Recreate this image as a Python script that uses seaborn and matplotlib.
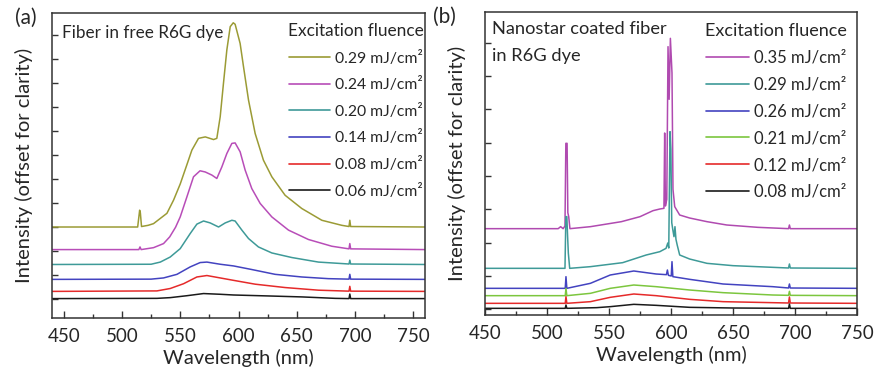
import numpy as np
import pandas as pd
import matplotlib
matplotlib.use("Agg")
import matplotlib.pyplot as plt
import seaborn as sns
from matplotlib.ticker import MultipleLocator, FixedLocator

# ---------------- Panel (a): fiber in free R6G dye ----------------
a_labels = ["0.29 mJ/cm²", "0.24 mJ/cm²", "0.20 mJ/cm²",
            "0.14 mJ/cm²", "0.08 mJ/cm²", "0.06 mJ/cm²"]
a_colors = ["#9b9b35", "#b84db8", "#3e9a98", "#4343c0", "#e52a2a", "#1a1a1a"]

a029_wl = [440, 513.5, 515.2, 515.8, 516.8, 522.5, 527.1, 538.6, 544.3, 550, 555.7, 560,
           565.7, 571.5, 578.6, 581.4, 584.3, 587.1, 590, 592.9, 595.5, 597.1, 601.4,
           604.3, 608.6, 614.3, 621.4, 628.6, 640, 654.3, 671.5, 688.6, 694.8, 695.5,
           696.2, 760]
a029_int = [4.01, 4.01, 4.71, 4.6, 4.03, 4.08, 4.15, 4.58, 5.13, 5.8, 6.6, 7.21,
            7.70, 7.76, 7.65, 7.70, 8.60, 9.99, 11.38, 12.35, 12.51, 12.45, 11.65,
            10.68, 9.29, 7.90, 6.79, 6.10, 5.33, 4.78, 4.29, 4.08, 4.03, 4.29,
            4.03, 4.01]

a024_wl = [440, 514.5, 515.5, 516.5, 527.1, 535.7, 541, 546, 550, 555.7, 561.4, 567,
           571.5, 577.2, 581.4, 585.7, 590, 594.3, 597.1, 601.4, 605.7, 611.4, 618.6,
           628.6, 642.9, 660, 680, 694.8, 695.5, 696.2, 760]
a024_int = [3.07, 3.07, 3.18, 3.07, 3.15, 3.32, 3.6, 4.0, 4.43, 5.26, 6.1, 6.35,
            6.30, 6.17, 6.03, 6.51, 7.07, 7.49, 7.51, 7.14, 6.38, 5.61, 4.99,
            4.43, 3.88, 3.49, 3.21, 3.1, 3.32, 3.1, 3.07]

a020_wl = [440, 525, 532.9, 541.4, 550, 558.6, 564.3, 570, 575.7, 582.9, 588.6, 594.3,
           597.1, 602.9, 608.6, 617.1, 628.6, 645.7, 668.6, 694.8, 695.5, 696.2, 760]
a020_int = [2.45, 2.46, 2.55, 2.76, 3.11, 3.74, 4.13, 4.26, 4.18, 4.01, 4.18, 4.29,
            4.26, 3.88, 3.53, 3.18, 2.93, 2.74, 2.55, 2.47, 2.63, 2.47, 2.45]

a014_wl = [440, 525, 535.7, 547.2, 558.6, 567.1, 572.9, 584.3, 595.7, 611.4, 631.4,
           654.3, 677.1, 694.8, 695.5, 696.2, 760]
a014_int = [1.83, 1.84, 1.89, 2.04, 2.35, 2.53, 2.55, 2.46, 2.39, 2.24, 2.04,
            1.93, 1.86, 1.84, 2.04, 1.84, 1.83]

a008_wl = [440, 530, 541.4, 552.9, 564.3, 572.9, 584.3, 595.7, 614.3, 640, 668.6,
           694.8, 695.5, 696.2, 760]
a008_int = [1.33, 1.35, 1.45, 1.65, 1.93, 1.99, 1.89, 1.79, 1.63, 1.49, 1.38,
            1.34, 1.54, 1.34, 1.33]

a006_wl = [440, 530, 541.4, 555.7, 570, 584.3, 595.7, 625.7, 654.3, 682.9, 694.8,
           695.5, 696.2, 760]
a006_int = [1.03, 1.04, 1.07, 1.15, 1.24, 1.21, 1.18, 1.14, 1.10, 1.04, 1.03,
            1.22, 1.03, 1.03]

# ---------------- Panel (b): nanostar coated fiber ----------------
b_labels = ["0.35 mJ/cm²", "0.29 mJ/cm²", "0.26 mJ/cm²",
            "0.21 mJ/cm²", "0.12 mJ/cm²", "0.08 mJ/cm²"]
b_colors = ["#b04ab0", "#3e9a98", "#4343c0", "#7cc63e", "#e52a2a", "#1a1a1a"]

b035_wl = [450, 509, 511, 513, 514.5, 515.2, 516.2, 516.8, 517.5, 518.5, 535, 560, 575,
           585.5, 591, 594.3, 594.9, 595.5, 596.6, 597.6, 598.5, 599.5, 600.8, 601.6,
           603, 607, 615, 629, 645, 670, 694.8, 695.5, 696.2, 750]
b035_int = [3.42, 3.42, 3.48, 3.42, 3.5, 5.98, 5.98, 3.9, 3.78, 3.42, 3.48, 3.63, 3.78,
            3.96, 4.01, 4.03, 6.29, 4.1, 4.3, 8.88, 7.3, 9.13, 8.09, 4.6,
            4.08, 3.83, 3.74, 3.63, 3.53, 3.46, 3.42, 3.53, 3.42, 3.42]

b029_wl = [450, 514.5, 515.2, 516.0, 516.6, 517.2, 518.3, 535, 561, 580, 591, 596,
           597.4, 598.2, 599.2, 599.9, 600.6, 601.5, 602.4, 603.2, 604, 605, 607, 615,
           629, 650, 694.8, 695.5, 696.2, 750]
b029_int = [2.23, 2.23, 3.78, 3.78, 3.2, 2.69, 2.23, 2.28, 2.40, 2.63, 2.73, 2.83,
            2.99, 2.84, 6.33, 5.8, 3.6, 3.38, 3.18, 3.48, 3.1, 2.93, 2.63, 2.51,
            2.38, 2.31, 2.24, 2.36, 2.24, 2.23]

b026_wl = [450, 514.7, 515.3, 516, 535, 551, 570, 588, 596.3, 597.1, 597.9, 600.2,
           600.8, 601.5, 615, 642, 682, 694.8, 695.5, 696.2, 750]
b026_int = [1.63, 1.63, 1.98, 1.63, 1.78, 2.03, 2.15, 2.06, 2.04, 2.18, 2.02, 2.0,
            2.43, 1.98, 1.90, 1.76, 1.68, 1.64, 1.76, 1.64, 1.63]

b021_wl = [450, 514.7, 515.3, 516, 535, 551, 570, 588, 615, 642, 682, 694.8, 695.5,
           696.2, 750]
b021_int = [1.41, 1.41, 1.63, 1.41, 1.48, 1.63, 1.73, 1.68, 1.58, 1.50, 1.43, 1.42,
            1.54, 1.42, 1.41]

b012_wl = [450, 514.7, 515.3, 516, 535, 551, 570, 588, 615, 642, 694.8, 695.5, 696.2, 750]
b012_int = [1.18, 1.18, 1.38, 1.18, 1.23, 1.36, 1.46, 1.41, 1.30, 1.23, 1.19, 1.37,
            1.19, 1.18]

b008_wl = [450, 514.7, 515.3, 516, 540, 551, 570, 588, 615, 650, 694.8, 695.5, 696.2, 750]
b008_int = [1.03, 1.03, 1.13, 1.03, 1.05, 1.08, 1.15, 1.12, 1.06, 1.04, 1.03, 1.16,
            1.03, 1.03]

x_ticks_a = [450, 500, 550, 600, 650, 700, 750]
x_ticks_b = [450, 500, 550, 600, 650, 700, 750]


def frame(labels, wls, ints):
    parts = []
    for lab, w, i in zip(labels, wls, ints):
        parts.append(pd.DataFrame({"wavelength": w, "intensity": i, "fluence": lab}))
    return pd.concat(parts, ignore_index=True)


df_a = frame(a_labels, [a029_wl, a024_wl, a020_wl, a014_wl, a008_wl, a006_wl],
             [a029_int, a024_int, a020_int, a014_int, a008_int, a006_int])
df_b = frame(b_labels, [b035_wl, b029_wl, b026_wl, b021_wl, b012_wl, b008_wl],
             [b035_int, b029_int, b026_int, b021_int, b012_int, b008_int])

sns.set_style("ticks")
plt.rcParams['font.family'] = ['Lato', 'DejaVu Sans']
FS_TICK = 13.5
FS_LAB = 14.5
edge = "#333333"

fig = plt.figure(figsize=(8.75, 3.7), dpi=100)
fig.canvas.draw()
rend = fig.canvas.get_renderer()


def fit_size(s, target_px, base=12.0):
    t = fig.text(0, 0, s, fontsize=base)
    w = t.get_window_extent(rend).width
    t.remove()
    return base * target_px / w


axA = fig.add_axes([52 / 875, (370 - 318.3) / 370, 373 / 875, 305.6 / 370])
axB = fig.add_axes([485 / 875, 55 / 370, 372 / 875, 303 / 370])


def style(ax, df, labels, colors, xlim, ylim, yticks, xticks, ent_w, title_w, anchor_x):
    sns.lineplot(data=df, x="wavelength", y="intensity", hue="fluence",
                 hue_order=labels, palette=colors, estimator=None, lw=1.1, ax=ax)
    ax.set_xlim(*xlim)
    ax.set_ylim(*ylim)
    ax.set_xticks(xticks)
    ax.xaxis.set_minor_locator(MultipleLocator(25))
    ax.yaxis.set_major_locator(FixedLocator(yticks))
    ax.set_yticklabels([])
    ax.tick_params(axis="x", which="major", direction="in", length=5, width=1,
                   color=edge, labelsize=FS_TICK, pad=7)
    ax.tick_params(axis="x", which="minor", direction="in", length=3, width=1, color=edge)
    ax.tick_params(axis="y", which="major", direction="in", length=4, width=1, color=edge)
    for s in ax.spines.values():
        s.set_color(edge)
        s.set_linewidth(1.1)
    ax.set_xlabel("Wavelength (nm)", fontsize=FS_LAB, labelpad=3)
    ax.set_ylabel("Intensity (offset for clarity)", fontsize=FS_LAB, labelpad=10)
    fs_ent = fit_size(labels[0], ent_w)
    fs_tit = fit_size("Excitation fluence", title_w)
    f_px = fs_ent * 100 / 72
    ls = (25.3 - 0.87 * f_px) / f_px
    handles, labs = ax.get_legend_handles_labels()
    leg = ax.legend(handles, labs, title="Excitation fluence", loc="upper right",
                    bbox_to_anchor=(anchor_x, 1.0), frameon=False, fontsize=fs_ent,
                    title_fontsize=fs_tit, handlelength=2.6, handletextpad=0.3,
                    labelspacing=ls, borderaxespad=0.25)
    for l in leg.get_lines():
        l.set_linewidth(1.2)
    return leg


style(axA, df_a, a_labels, a_colors, (440, 760), (0.21, 12.93),
      list(range(1, 13)), x_ticks_a, 87, 136, 1.024)
style(axB, df_b, b_labels, b_colors, (450, 750), (0.83, 9.92),
      list(range(1, 10)), x_ticks_b, 92, 142, 1.003)

fs_ann_a = fit_size("Fiber in free R6G dye", 161)
fs_ann_b = fit_size("Nanostar coated fiber", 174)
axA.text((62 - 52) / 373, (318.3 - 33) / 305.6, "Fiber in free R6G dye",
         transform=axA.transAxes, fontsize=fs_ann_a, va="center", ha="left")
axB.text((492 - 485) / 372, (315 - 29) / 303, "Nanostar coated fiber",
         transform=axB.transAxes, fontsize=fs_ann_b, va="center", ha="left")
axB.text((492 - 485) / 372, (315 - 56) / 303, "in R6G dye",
         transform=axB.transAxes, fontsize=fs_ann_b, va="center", ha="left")

fig.text(15 / 875, 1 - 18 / 370, "(a)", fontsize=15, va="center", ha="left")
fig.text(433 / 875, 1 - 17 / 370, "(b)", fontsize=15, va="center", ha="left")

fig.savefig("out.png", dpi=100)
